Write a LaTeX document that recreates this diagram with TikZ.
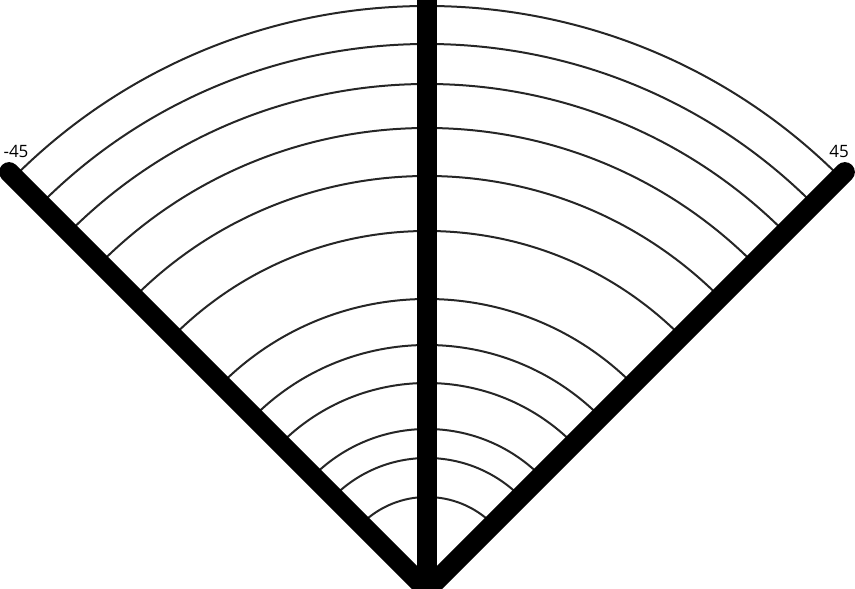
\documentclass[tikz,border=0pt]{standalone}
\usepackage{fontspec}
\setmainfont{Open Sans}
\usetikzlibrary{calc}
\tikzset{
  spoke/.style={line width=20pt, line cap=round, draw=black},
  ring/.style={line width=2pt, draw=black!85},
  anglabel/.style={font=\fontsize{17}{20}\selectfont, inner sep=0pt},
}

\begin{document}
\begin{tikzpicture}[x=1pt,y=1pt]
  \useasboundingbox (-427,1) rectangle (428,590);
  \coordinate (apex) at (0,0);
  % rings
  \foreach \r in {93,132,161,207,245,291,359,414,462,506,546,584}
    \draw[ring] (apex) ++(45:\r pt) arc (45:135:\r pt);
  % spokes
  \coordinate (lend) at (135:591pt);
  \coordinate (mend) at (90:600pt);
  \coordinate (rend) at (45:591pt);
  \draw[spoke] (apex) -- (lend);
  \draw[spoke] (apex) -- (rend);
  \draw[spoke] (apex) -- (mend);
  \node[anglabel] (lminus) at (-411,439) {-45};
  \node[anglabel] (lplus) at (412,439) {45};
\end{tikzpicture}
\end{document}
